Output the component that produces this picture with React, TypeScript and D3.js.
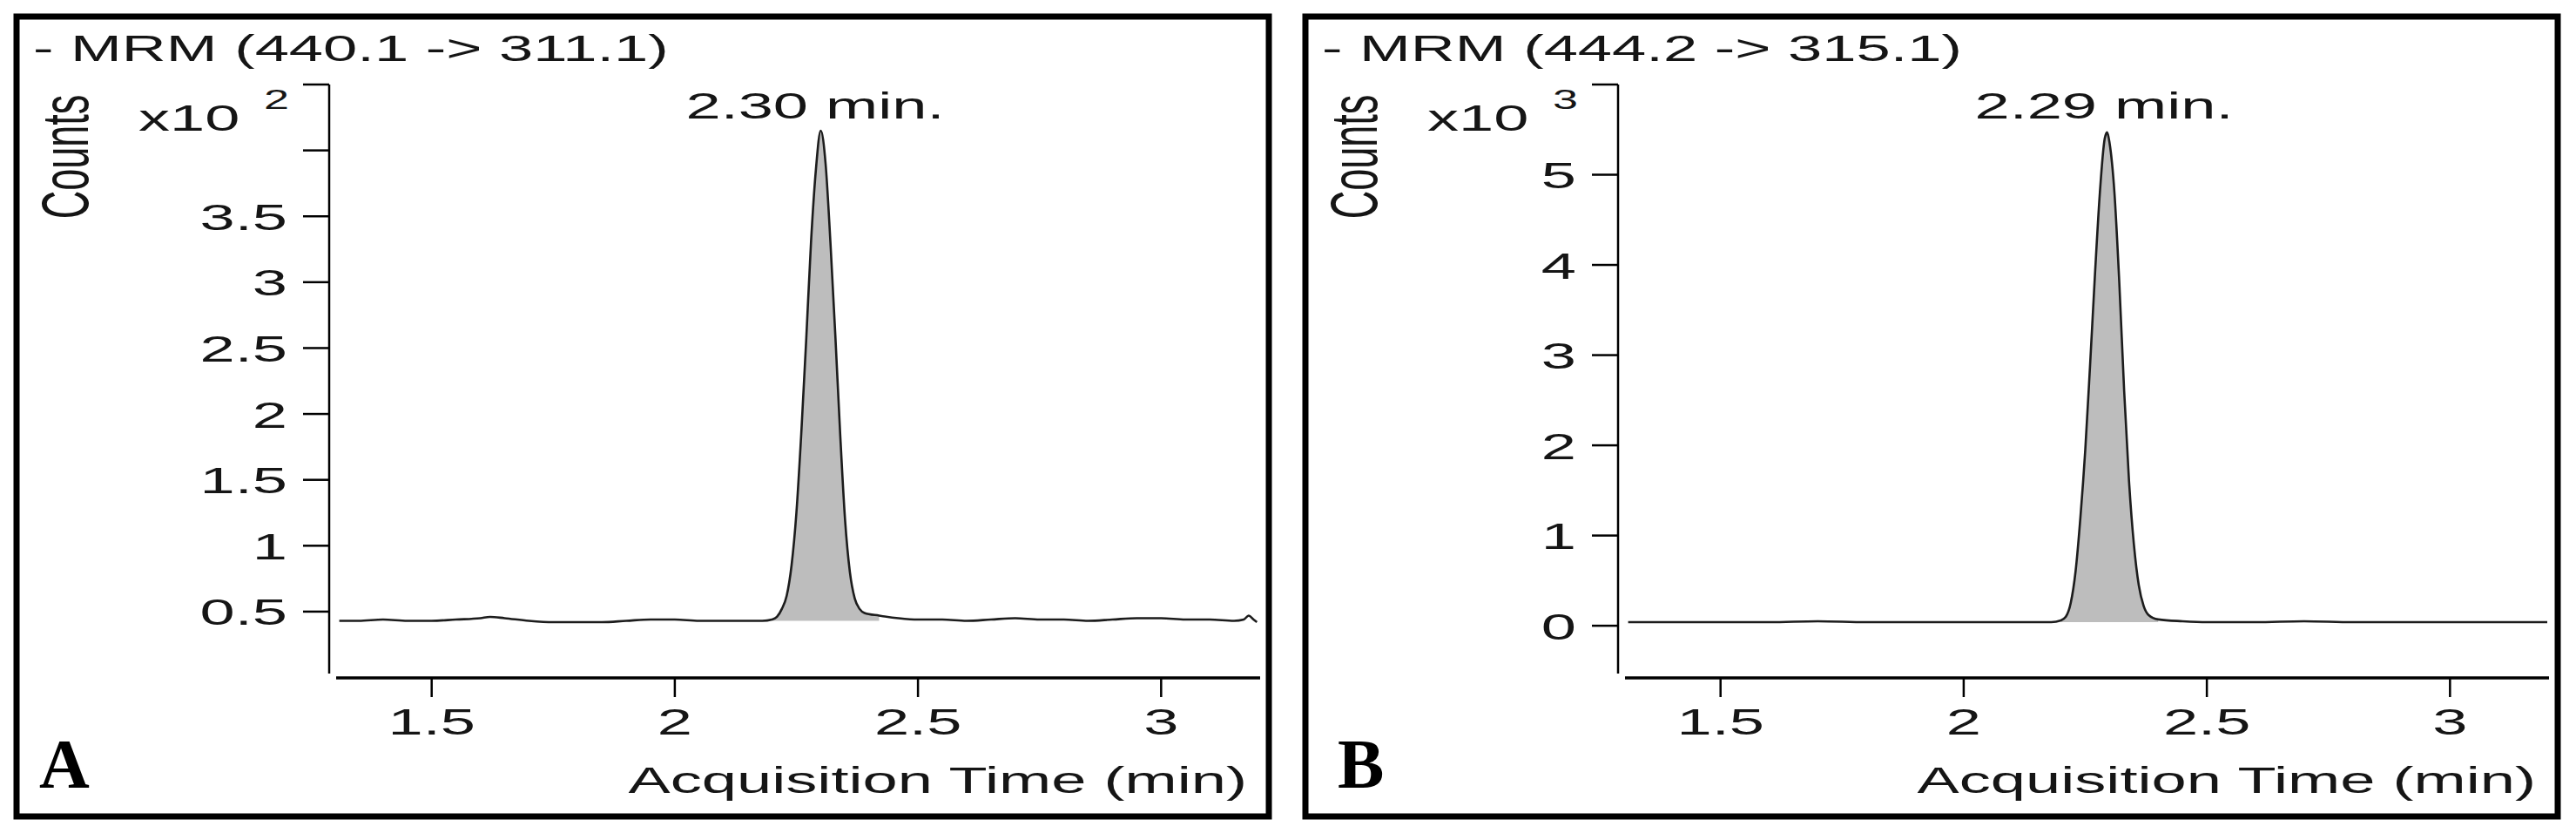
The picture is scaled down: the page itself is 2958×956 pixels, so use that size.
import * as d3 from "d3";

// horizontal stretch the original figure has on its text
const SX = 1.68;
const FONT = "'Liberation Sans', Arial, sans-serif";

// x axis (acquisition time, min)
const xDomain = [1.3, 3.2];
const xTicks = [1.5, 2, 2.5, 3];

// panel A : MRM 440.1 -> 311.1, counts x10^2
const timeA = [
  1.31, 1.35, 1.4, 1.45, 1.5, 1.55, 1.6, 1.62, 1.65, 1.7, 1.75, 1.8, 1.85, 1.9, 1.95, 2.0, 2.05, 2.1, 2.15,
  2.18, 2.2, 2.21, 2.22, 2.23, 2.24, 2.25, 2.26, 2.27, 2.28, 2.29, 2.3, 2.31, 2.32, 2.33, 2.34, 2.35, 2.36,
  2.37, 2.38, 2.39, 2.42, 2.46, 2.5, 2.55, 2.6, 2.65, 2.7, 2.75, 2.8, 2.85, 2.9, 2.95, 3.0, 3.05, 3.1, 3.15,
  3.17, 3.18, 3.19, 3.197,
];
const countsA = [
  0.43, 0.43, 0.44, 0.43, 0.43, 0.44, 0.45, 0.46, 0.45, 0.43, 0.42, 0.42, 0.42, 0.43, 0.44, 0.44, 0.43, 0.43, 0.43,
  0.43, 0.44, 0.46, 0.52, 0.62, 0.85, 1.25, 1.85, 2.55, 3.3, 3.85, 4.15, 3.9, 3.3, 2.6, 1.85, 1.2, 0.8,
  0.6, 0.52, 0.49, 0.47, 0.45, 0.44, 0.44, 0.43, 0.44, 0.45, 0.44, 0.44, 0.43, 0.44, 0.45, 0.45, 0.44, 0.44, 0.43,
  0.44, 0.47, 0.44, 0.42,
];
const peakRangeA = [2.2, 2.42];
const baselineA = 0.43;
const yDomainA = [0.03, 4.5];
const yTicksA = [0.5, 1, 1.5, 2, 2.5, 3, 3.5, 4, 4.5];
const yLabelsA = ["0.5", "1", "1.5", "2", "2.5", "3", "3.5", "", ""];

// panel B : MRM 444.2 -> 315.1, counts x10^3
const timeB = [
  1.31, 1.4, 1.5, 1.6, 1.7, 1.8, 1.9, 2.0, 2.1, 2.15, 2.18, 2.2, 2.21, 2.22, 2.23, 2.24, 2.25, 2.26, 2.27,
  2.28, 2.29, 2.295, 2.3, 2.31, 2.32, 2.33, 2.34, 2.35, 2.36, 2.37, 2.38, 2.4, 2.45, 2.5, 2.6, 2.7, 2.8,
  2.9, 3.0, 3.1, 3.2,
];
const countsB = [
  0.04, 0.04, 0.04, 0.04, 0.05, 0.04, 0.04, 0.04, 0.04, 0.04, 0.04, 0.06, 0.1, 0.25, 0.6, 1.2, 1.95, 2.9, 3.9,
  4.8, 5.4, 5.47, 5.35, 4.8, 3.8, 2.6, 1.6, 0.9, 0.45, 0.22, 0.12, 0.07, 0.05, 0.04, 0.04, 0.05, 0.04,
  0.04, 0.04, 0.04, 0.04,
];
const peakRangeB = [2.19, 2.42];
const baselineB = 0.04;
const yDomainB = [-0.53, 6];
const yTicksB = [0, 1, 2, 3, 4, 5, 6];
const yLabelsB = ["0", "1", "2", "3", "4", "5", ""];

const titles = ["- MRM (440.1 -> 311.1)", "- MRM (444.2 -> 315.1)"];
const exponents = ["2", "3"];
const peakLabels = ["2.30 min.", "2.29 min."];
const panelLetters = ["A", "B"];

type PanelProps = {
  offset: number;
  time: number[];
  counts: number[];
  peakRange: number[];
  baseline: number;
  yDomain: number[];
  yTicks: number[];
  yLabels: string[];
  title: string;
  exponent: string;
  peakLabel: string;
  letter: string;
};

const SText = ({ x, y, size, anchor = "start", dy, rotate, children }: any) => (
  <text
    transform={`translate(${x},${y}) scale(${SX},1)${rotate ? ` rotate(${rotate})` : ""}`}
    fontSize={size}
    textAnchor={anchor}
    dy={dy}
    fill="#151515"
    fontFamily={FONT}
  >
    {children}
  </text>
);

const Panel = (p: PanelProps) => {
  const x = d3.scaleLinear().domain(xDomain).range([384, 1445]);
  const y = d3.scaleLinear().domain(p.yDomain).range([773, 97]);
  const pts = p.time.map((t, i) => [t, p.counts[i]] as [number, number]);
  const peakPts = pts.filter((d) => d[0] >= p.peakRange[0] && d[0] <= p.peakRange[1]);

  const line = d3
    .line<[number, number]>()
    .x((d) => x(d[0]))
    .y((d) => y(d[1]))
    .curve(d3.curveMonotoneX);
  const area = d3
    .area<[number, number]>()
    .x((d) => x(d[0]))
    .y0(y(p.baseline))
    .y1((d) => y(d[1]))
    .curve(d3.curveMonotoneX);

  return (
    <g transform={`translate(${p.offset},0)`}>
      <rect x={19} y={19} width={1438} height={918} fill="white" stroke="black" strokeWidth={7} />
      <SText x={38} y={70} size={42}>{p.title}</SText>

      {/* y axis */}
      <SText x={74} y={180} size={45} anchor="middle" dy="0.36em" rotate={-90}>Counts</SText>
      <SText x={159} y={150} size={43}>x10</SText>
      <SText x={303} y={125} size={31}>{p.exponent}</SText>
      <line x1={378} x2={378} y1={y(p.yDomain[1])} y2={773} stroke="black" strokeWidth={2.5} />
      {p.yTicks.map((t, i) => (
        <g key={i}>
          <line x1={348} x2={378} y1={y(t)} y2={y(t)} stroke="black" strokeWidth={2.5} />
          <SText x={330} y={y(t)} size={43} anchor="end" dy="0.36em">{p.yLabels[i]}</SText>
        </g>
      ))}

      {/* x axis */}
      <line x1={386} x2={1447} y1={778} y2={778} stroke="black" strokeWidth={3.5} />
      {xTicks.map((t) => (
        <g key={t}>
          <line x1={x(t)} x2={x(t)} y1={778} y2={800} stroke="black" strokeWidth={2.5} />
          <SText x={x(t)} y={843} size={43} anchor="middle">{String(t)}</SText>
        </g>
      ))}
      <SText x={1432} y={910} size={43} anchor="end">Acquisition Time (min)</SText>

      {/* trace */}
      <path d={area(peakPts) || ""} fill="#bdbdbd" />
      <path d={line(pts) || ""} fill="none" stroke="#1c1c1c" strokeWidth={2.6} />
      <SText x={936} y={136} size={43} anchor="middle">{p.peakLabel}</SText>

      <text x={p.letter === "A" ? 45 : 56} y={904} fontSize={80} fontWeight="bold" fontFamily="'Liberation Serif', 'Times New Roman', serif">
        {p.letter}
      </text>
    </g>
  );
};

export default function App() {
  return (
    <svg width={2958} height={956} style={{ position: "absolute", left: 0, top: 0, background: "white" }}>
      <rect width={2958} height={956} fill="white" />
      <Panel
        offset={0}
        time={timeA}
        counts={countsA}
        peakRange={peakRangeA}
        baseline={baselineA}
        yDomain={yDomainA}
        yTicks={yTicksA}
        yLabels={yLabelsA}
        title={titles[0]}
        exponent={exponents[0]}
        peakLabel={peakLabels[0]}
        letter={panelLetters[0]}
      />
      <Panel
        offset={1480}
        time={timeB}
        counts={countsB}
        peakRange={peakRangeB}
        baseline={baselineB}
        yDomain={yDomainB}
        yTicks={yTicksB}
        yLabels={yLabelsB}
        title={titles[1]}
        exponent={exponents[1]}
        peakLabel={peakLabels[1]}
        letter={panelLetters[1]}
      />
    </svg>
  );
}
